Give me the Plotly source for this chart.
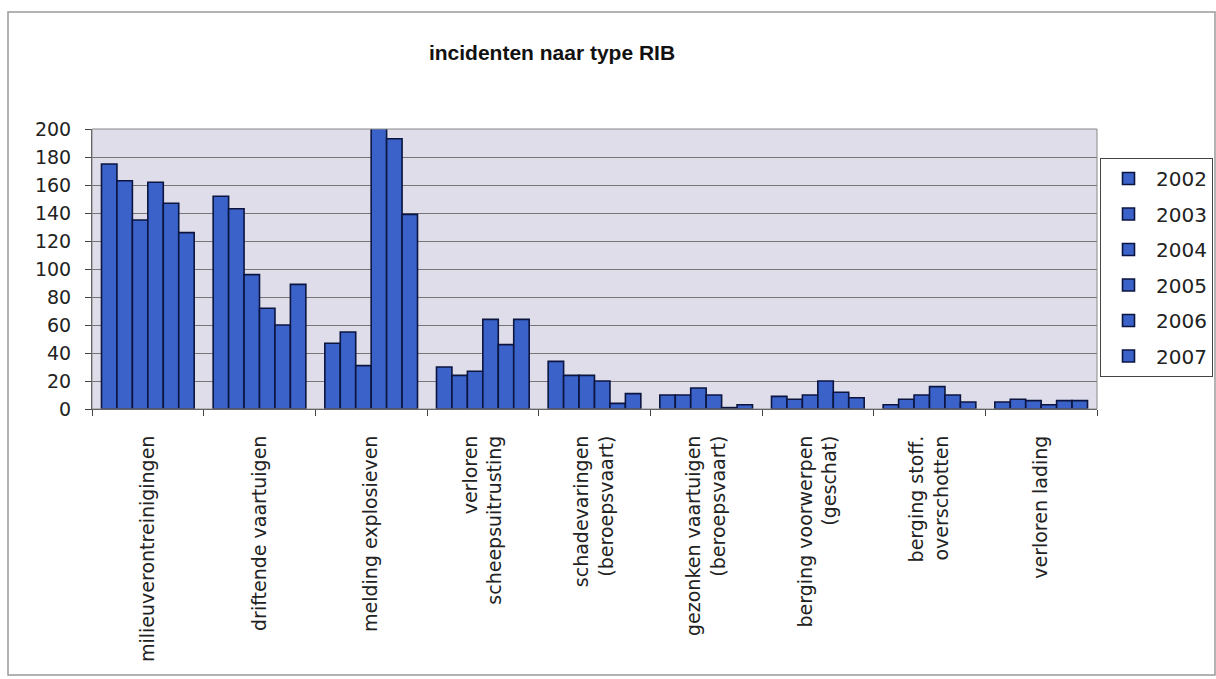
import plotly.graph_objects as go

categories = [
    "milieuverontreinigingen",
    "driftende vaartuigen",
    "melding explosieven",
    "verloren<br>scheepsuitrusting",
    "schadevaringen<br>(beroepsvaart)",
    "gezonken vaartuigen<br>(beroepsvaart)",
    "berging voorwerpen<br>(geschat)",
    "berging stoff.<br>overschotten",
    "verloren lading",
]
years = ["2002", "2003", "2004", "2005", "2006", "2007"]
v2002 = [175, 152, 47, 30, 34, 10, 9, 3, 5]
v2003 = [163, 143, 55, 24, 24, 10, 7, 7, 7]
v2004 = [135, 96, 31, 27, 24, 15, 10, 10, 6]
v2005 = [162, 72, 203, 64, 20, 10, 20, 16, 3]
v2006 = [147, 60, 193, 46, 4, 1, 12, 10, 6]
v2007 = [126, 89, 139, 64, 11, 3, 8, 5, 6]
series = [v2002, v2003, v2004, v2005, v2006, v2007]

W, H = 1216, 679
L, R, T, B = 92, 119, 129, 270
pw = W - L - R
ph = H - T - B

FONT = "DejaVu Sans, Liberation Sans, Arial, sans-serif"

fig = go.Figure()
for yr, vals in zip(years, series):
    fig.add_trace(go.Bar(
        x=categories, y=vals, name=yr, legendgroup=yr,
        marker=dict(color="#3a62c8", line=dict(color="#0b1540", width=1.6)),
    ))

def px_x(px):
    return (px - L) / pw

def px_y(py):
    return 1 - (py - T) / ph

fig.update_layout(
    width=W, height=H,
    margin=dict(l=L, r=R, t=T, b=B, autoexpand=False),
    paper_bgcolor="white",
    plot_bgcolor="#dedde9",
    barmode="group", bargap=0.17, bargroupgap=0,
    font=dict(family=FONT, color="#222222", size=18),
    title=dict(text="<b>incidenten naar type RIB</b>", x=552 / W, xanchor="center",
               y=1 - 53 / H, yanchor="middle",
               font=dict(family="Liberation Sans, Arial, sans-serif", size=21, color="#111111")),
    legend=dict(x=px_x(1100), xanchor="left", y=px_y(158), yanchor="top",
                bordercolor="#444444", borderwidth=1, bgcolor="white",
                font=dict(size=20), tracegroupgap=6.5, itemwidth=45),
    showlegend=True,
)
fig.update_xaxes(
    type="category", tickangle=-90, tickson="boundaries",
    ticks="outside", ticklen=6, tickcolor="#444444",
    showline=True, linecolor="#444444", linewidth=1,
    tickfont=dict(size=19), showgrid=False, ticklabelstandoff=18,
)
fig.update_yaxes(
    range=[0, 200], dtick=20, ticks="outside", ticklen=6, tickcolor="#444444",
    showline=True, linecolor="#444444", linewidth=1,
    showgrid=True, gridcolor="#767676", gridwidth=1,
    tickfont=dict(size=19), zeroline=False, ticklabelstandoff=10,
)
# outer chart frame
fig.add_shape(type="rect", xref="paper", yref="paper",
              x0=px_x(8), x1=px_x(1215), y0=px_y(675), y1=px_y(12),
              line=dict(color="#9a9a9a", width=1.5), layer="below")
# plot area border
fig.add_shape(type="rect", xref="paper", yref="paper",
              x0=0, x1=1, y0=0, y1=1, line=dict(color="#888888", width=1))

fig.write_html("out.html", config={"displayModeBar": False},
               post_script="document.body.style.margin='0';document.body.style.overflow='hidden';")
